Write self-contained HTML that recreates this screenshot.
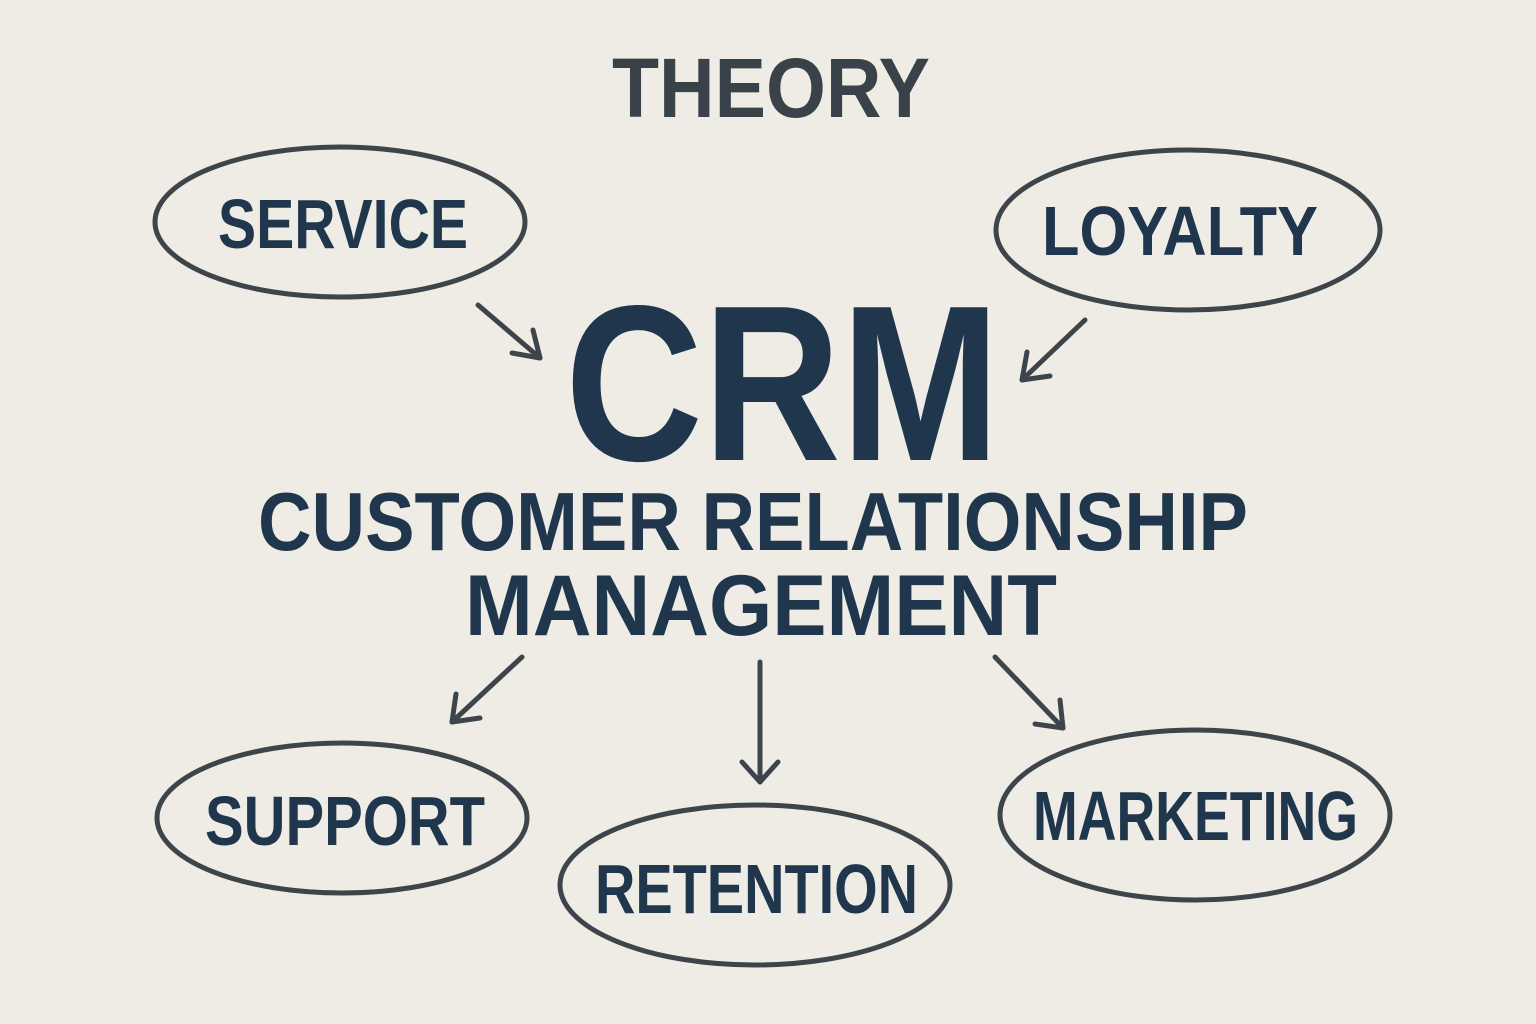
<!DOCTYPE html>
<html><head><meta charset="utf-8"><style>
html,body{margin:0;padding:0;background:#eeece5;}
svg{display:block;}
text{font-family:"Liberation Sans",sans-serif;font-weight:bold;}
</style></head><body>
<svg width="1536" height="1024" viewBox="0 0 1536 1024" xmlns="http://www.w3.org/2000/svg">
<defs>
<marker id="ah" markerWidth="10" markerHeight="10" refX="8" refY="5" orient="auto" markerUnits="userSpaceOnUse" viewBox="0 0 10 10">
</marker>
</defs>
<rect width="1536" height="1024" fill="#eeece5"/>
<text x="612" y="117" textLength="318" lengthAdjust="spacingAndGlyphs" font-size="84" fill="#3a4249">THEORY</text>

<g fill="none" stroke="#3d454b" stroke-width="5">
<ellipse cx="340" cy="222" rx="185" ry="75"/>
<ellipse cx="1188" cy="230" rx="192" ry="80"/>
<ellipse cx="342" cy="818" rx="185" ry="75"/>
<ellipse cx="755" cy="885" rx="195" ry="80"/>
<ellipse cx="1195" cy="815" rx="195" ry="85"/>
</g>

<g fill="#1f364c">
<text x="218" y="248" textLength="250" lengthAdjust="spacingAndGlyphs" font-size="70">SERVICE</text>
<text x="1042" y="255" textLength="276" lengthAdjust="spacingAndGlyphs" font-size="70">LOYALTY</text>
<text x="565" y="460" textLength="435" lengthAdjust="spacingAndGlyphs" font-size="222">CRM</text>
<text x="258" y="550" textLength="990" lengthAdjust="spacingAndGlyphs" font-size="83">CUSTOMER RELATIONSHIP</text>
<text x="465" y="635" textLength="592" lengthAdjust="spacingAndGlyphs" font-size="86">MANAGEMENT</text>
<text x="205" y="845" textLength="280" lengthAdjust="spacingAndGlyphs" font-size="70">SUPPORT</text>
<text x="595" y="913" textLength="323" lengthAdjust="spacingAndGlyphs" font-size="70">RETENTION</text>
<text x="1033" y="840" textLength="325" lengthAdjust="spacingAndGlyphs" font-size="70">MARKETING</text>
</g>

<g fill="none" stroke="#3d454b" stroke-width="5" stroke-linecap="round" stroke-linejoin="round">
<line x1="478" y1="305" x2="540" y2="358"/><polyline points="512,353 540,358 533,330"/>
<line x1="1085" y1="320" x2="1022" y2="380"/><polyline points="1027,352 1022,380 1050,376"/>
<line x1="522" y1="657" x2="452" y2="722"/><polyline points="456,694 452,722 480,718"/>
<line x1="760" y1="662" x2="760" y2="782"/><polyline points="742,762 760,782 778,762"/>
<line x1="995" y1="657" x2="1063" y2="728"/><polyline points="1060,700 1063,728 1035,724"/>
</g>
</svg>
</body></html>
